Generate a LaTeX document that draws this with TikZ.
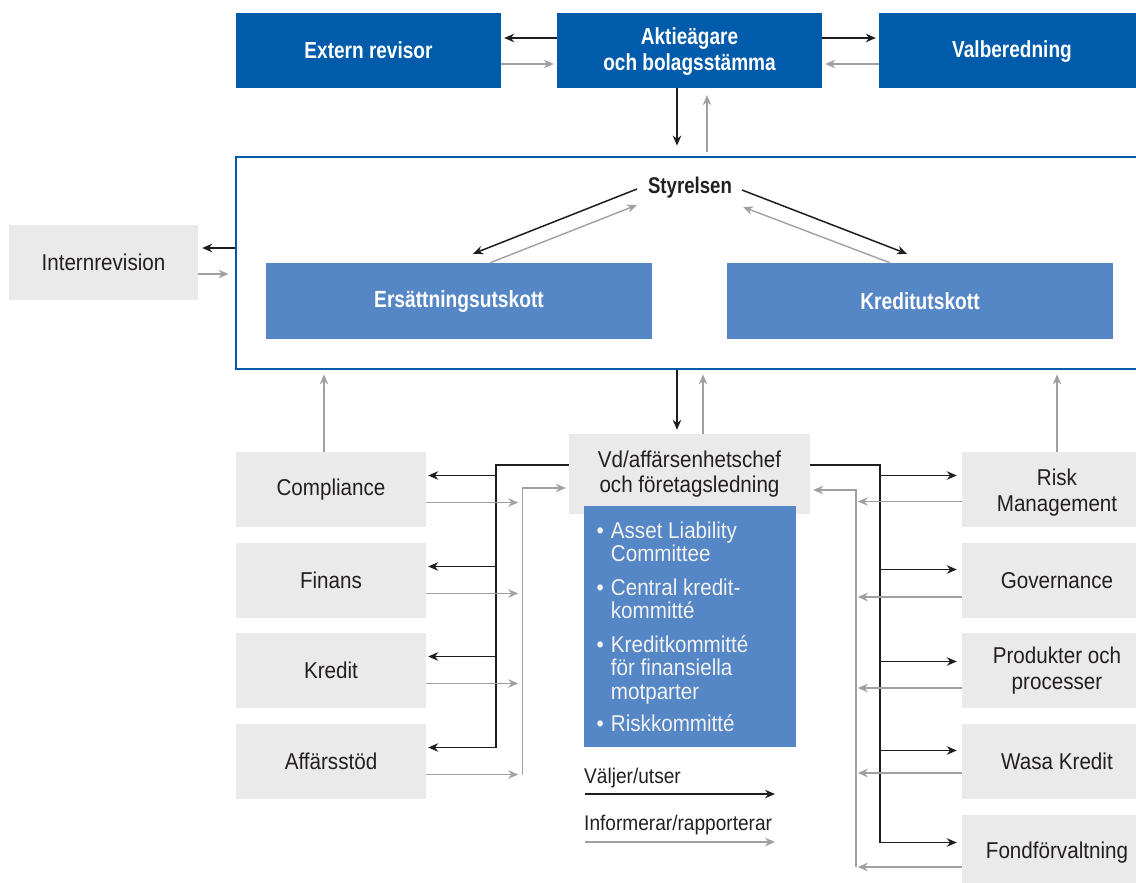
\documentclass[tikz,border=0pt]{standalone}
\usepackage{fontspec}
\setmainfont{Liberation Sans}[FakeStretch=0.9]
\newfontfamily\bc{Liberation Sans}[FakeStretch=0.82]
\usetikzlibrary{arrows.meta,calc}
\definecolor{dblue}{RGB}{0,91,170}
\definecolor{mblue}{RGB}{85,134,198}
\definecolor{lgray}{RGB}{234,234,234}
\definecolor{txt}{RGB}{35,31,32}
\definecolor{ablack}{RGB}{30,30,30}
\definecolor{agray}{RGB}{160,160,160}
\definecolor{ltext}{RGB}{242,242,242}
\tikzset{
  box/.style={rectangle, inner sep=0pt, align=center},
  dbox/.style={box, fill=dblue, text=white, minimum width=265bp, minimum height=75bp,
    font=\bc\bfseries\fontsize{23.3}{26}\selectfont},
  cbox/.style={box, fill=mblue, text=white, minimum width=386bp, minimum height=76bp,
    font=\bc\bfseries\fontsize{23.5}{26}\selectfont},
  gbox/.style={box, fill=lgray, text=txt, minimum width=190bp, minimum height=75bp,
    font=\fontsize{23}{25.5}\selectfont},
  lbox/.style={box, fill=mblue},
  frame/.style={rectangle, inner sep=0pt, draw=dblue, line width=2.8bp},
  blkline/.style={draw=ablack, line width=1.5bp},
  gryline/.style={draw=agray, line width=1.4bp},
  blk/.style={blkline, -{Stealth[length=10bp,width=8.5bp]}, shorten >=3bp},
  gry/.style={gryline, -{Stealth[length=10bp,width=8.5bp]}, shorten >=3bp},
  legtext/.style={inner sep=0pt, text=txt, font=\fontsize{21.3}{24}\selectfont}
}
\newcommand{\lowerby}[2]{\raisebox{-#1}[\height][\depth]{\begin{tabular}{@{}c@{}}#2\end{tabular}}}
\begin{document}
\begin{tikzpicture}[x=1bp,y=-1bp]
\useasboundingbox (0,0) rectangle (1136,883);

% top row
\node[dbox] (ext) at (368.5,50.5) {Extern revisor};
\node[dbox] (aga) at (689.5,50.5) {\lowerby{2bp}{Aktieägare\\och bolagsstämma}};
\node[dbox, minimum width=266bp] (val) at (1012,50.5) {\lowerby{2bp}{Valberedning}};

% board frame
\node[frame, minimum width=914bp, minimum height=212bp] (board) at (693,263) {};
\node[cbox] (ers) at (459,301) {Ersättningsutskott};
\node[cbox] (kred) at (920,301) {Kreditutskott};
\node[inner sep=0pt, text=txt, font=\bc\bfseries\fontsize{22.8}{26}\selectfont] (sty) at (690,188) {Styrelsen};

% internal audit
\node[gbox, minimum width=189bp] (intrev) at (103.5,262.5) {Internrevision};

% management
\node[gbox, minimum width=241bp, minimum height=80bp] (vd) at (689.5,474) {Vd/affärsenhetschef\\och företagsledning};
\node[lbox, minimum width=212bp, minimum height=241bp] (list) at (690,626.5) {};
\node[anchor=north west, inner sep=0pt, text=ltext, font=\fontsize{23}{23.5}\selectfont] (items) at (596.5,521.5)
  {\begin{tabular}{@{}c@{\hspace{7bp}}l@{}}
   \textbullet & Asset Liability\\
               & Committee\\[9.5bp]
   \textbullet & Central kredit-\\
               & kommitté\\[9.5bp]
   \textbullet & Kreditkommitté\\
               & för finansiella\\
               & motparter\\[8.5bp]
   \textbullet & Riskkommitté
   \end{tabular}};

% left units
\node[gbox] (comp) at (331,489.5) {Compliance};
\node[gbox] (fin)  at (331,580.5) {Finans};
\node[gbox] (kre)  at (331,670.5) {Kredit};
\node[gbox] (aff)  at (331,761.5) {Affärsstöd};

% right units
\node[gbox] (risk) at (1057,489.5) {\lowerby{4bp}{Risk\\Management}};
\node[gbox] (gov)  at (1057,580.5) {Governance};
\node[gbox] (prod) at (1057,670.5) {Produkter och\\processer};
\node[gbox] (wasa) at (1057,761.5) {Wasa Kredit};
\node[gbox] (fond) at (1057,852.5) {Fondförvaltning};

% top connectors
\draw[blk] ([yshift=12.5bp]aga.west) -- ([yshift=12.5bp]ext.east);
\draw[gry] ([yshift=-13.5bp]ext.east) -- ([yshift=-13.5bp]aga.west);
\draw[blk] ([yshift=12.5bp]aga.east) -- ([yshift=12.5bp]val.west);
\draw[gry] ([yshift=-13.5bp]val.west) -- ([yshift=-13.5bp]aga.east);

\draw[blk, shorten >=10bp] ($(aga.south)+(-12.5,0)$) -- ($(aga.south |- board.north)+(-12.5,0)$);
\draw[gry, shorten <=4bp, shorten >=7bp] ($(aga.south |- board.north)+(17.5,0)$) -- ($(aga.south)+(17.5,0)$);

% board internal
\draw[blk, shorten >=0pt] ($(sty.center)+(-53,1)$) -- ($(ers.north)+(14,-9)$);
\draw[gry, shorten >=0pt] ($(ers.north)+(31,0)$) -- ($(sty.center)+(-53,17)$);
\draw[blk, shorten >=0pt] ($(sty.center)+(52,2)$) -- ($(kred.north)+(-13,-9)$);
\draw[gry, shorten >=0pt] ($(kred.north)+(-30,0)$) -- ($(sty.center)+(53,19)$);

% internrevision
\draw[blk, shorten >=4bp] ($(board.west)+(0,-15)$) -- ($(intrev.east |- board.west)+(0,-15)$);
\draw[gry, shorten >=6bp] ($(intrev.east)+(0,11.5)$) -- ($(board.west |- intrev.east)+(0,11.5)$);

% board <-> vd
\draw[blk, shorten >=4bp] ($(vd.north |- board.south)+(-12.5,0)$) -- ($(vd.north)+(-12.5,0)$);
\draw[gry, shorten >=4bp] ($(vd.north)+(13.5,0)$) -- ($(vd.north |- board.south)+(13.5,0)$);

% compliance / risk up to board
\draw[gry, shorten >=4bp] ($(comp.north)+(-7,0)$) -- ($(comp.north |- board.south)+(-7,0)$);
\draw[gry, shorten >=4bp] (risk.north) -- (risk.north |- board.south);

% left bus
\draw[blkline] ($(vd.west)+(0,-9)$) -| ($(aff.east)+(70,-14)$);
\foreach \b in {comp,fin,kre,aff}
  \draw[blk, shorten >=2bp] ($(\b.east)+(70,-14)$) -- ($(\b.east)+(0,-14)$);
\draw[gry] ($(aff.east)+(96,13)$) |- ($(vd.west)+(0,14)$);
\foreach \b in {comp,fin,kre,aff}
  \draw[gry, shorten >=4bp] ($(\b.east)+(0,13)$) -- ($(\b.east)+(96,13)$);

% right bus
\draw[blkline] ($(vd.east)+(0,-9)$) -| ($(fond.west)+(-82,-10)$);
\foreach \b/\o in {risk/-14,gov/-11,prod/-9,wasa/-11,fond/-10}
  \draw[blk, shorten >=5bp] ($(\b.west)+(-82,\o)$) -- ($(\b.west)+(0,\o)$);
\draw[gry] ($(fond.west)+(-106,14.5)$) |- ($(vd.east)+(0,16)$);
\foreach \b/\o in {risk/12,gov/16.5,prod/17.5,wasa/11.5,fond/14.5}
  \draw[gry, shorten >=2bp] ($(\b.west)+(0,\o)$) -- ($(\b.west)+(-106,\o)$);

% legend
\node[legtext, anchor=base west] (leg1) at (584,783) {Väljer/utser};
\coordinate (l1s) at (585,794);
\coordinate (l1e) at (775,794);
\draw[blk, shorten >=0pt] (l1s) -- (l1e);
\node[legtext, anchor=base west] (leg2) at (584,830) {Informerar/rapporterar};
\coordinate (l2s) at (585,842);
\coordinate (l2e) at (775,842);
\draw[gry, shorten >=0pt] (l2s) -- (l2e);
\end{tikzpicture}
\end{document}
